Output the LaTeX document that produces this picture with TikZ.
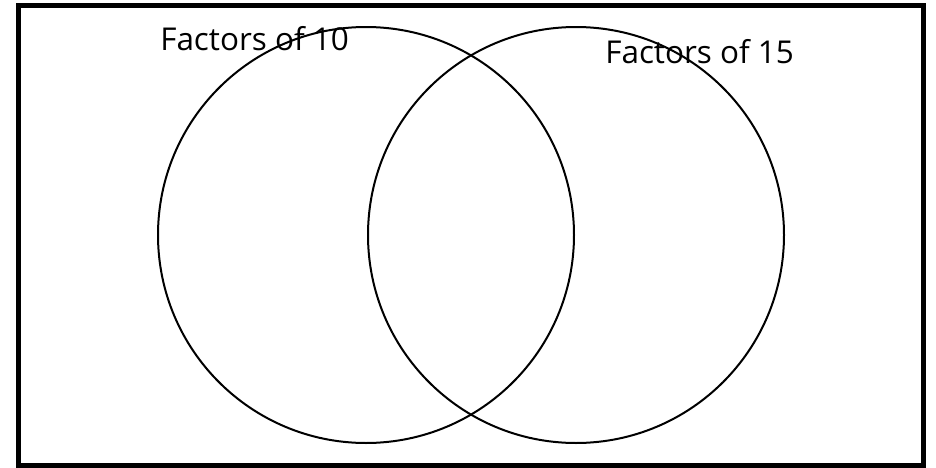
\documentclass[tikz,border=0pt]{standalone}
\usepackage{fontspec}
\setmainfont{Open Sans}
\begin{document}
\begin{tikzpicture}[x=0.75pt, y=-0.75pt, set/.style={circle, draw, line width=1.5pt, minimum size=312pt, inner sep=0pt}, setname/.style={anchor=base west, inner sep=0pt, font=\fontsize{23.6}{24}\selectfont}]

		\useasboundingbox (0,0) rectangle (936,468);
		\draw[line width=3.75pt] (18,5.5) rectangle (923,465.5);
		\node[set] (ten) at (366,235) {};
		\node[set] (fifteen) at (576,235) {};
		\node[setname] (tenname) at (160,50) {Factors of 10};
		\node[setname] (fifteenname) at (605,63) {Factors of 15};
	\end{tikzpicture}
\end{document}
